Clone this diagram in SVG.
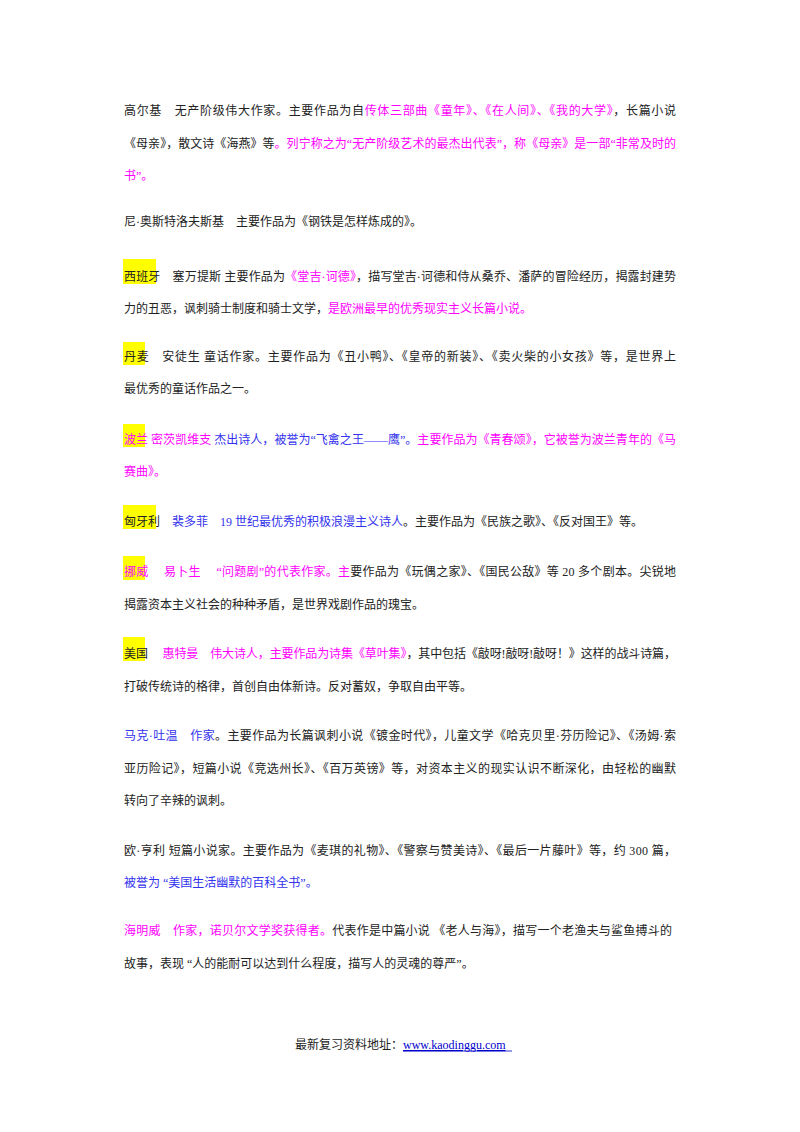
<svg xmlns="http://www.w3.org/2000/svg" width="800" height="1132" viewBox="0 0 800 1132">
<style>
text{font-family:"Liberation Serif","Noto Sans CJK SC",serif;font-size:12px;fill:#222}
.m{fill:#FF00FF}.b{fill:#3333EE}
.hl{fill:#FFFF00}
</style>
<rect width="800" height="1132" fill="#fff"/>
<g id="highlights">
<rect class="hl" x="123" y="259" width="33" height="25"/>
<rect class="hl" x="123" y="342" width="22" height="23"/>
<rect class="hl" x="123" y="424" width="22" height="23"/>
<rect class="hl" x="123" y="505" width="33" height="24"/>
<rect class="hl" x="123" y="556" width="22" height="24"/>
<rect class="hl" x="123" y="637" width="22" height="24"/>
</g>
<g id="p1">
<text x="124" y="115" textLength="552" lengthAdjust="spacing">高尔基　无产阶级伟大作家。主要作品为自<tspan class="m">传体三部曲《童年》、《在人间》、《我的大学》</tspan>，长篇小说</text>
<text x="124" y="148" textLength="552" lengthAdjust="spacing">《母亲》，散文诗《海燕》等<tspan class="m">。列宁称之为“无产阶级艺术的最杰出代表”，称《母亲》是一部“非常及时的</tspan></text>
<text x="124" y="180" class="m">书”。</text>
</g>
<g id="p2"><text x="124" y="226">尼·奥斯特洛夫斯基　主要作品为《钢铁是怎样炼成的》。</text></g>
<g id="p3">
<text x="124" y="281" textLength="552" lengthAdjust="spacing">西班牙　塞万提斯 主要作品为<tspan class="m">《堂吉·诃德》</tspan>，描写堂吉·诃德和侍从桑乔、潘萨的冒险经历，揭露封建势</text>
<text x="124" y="313">力的丑恶，讽刺骑士制度和骑士文学，<tspan class="m">是欧洲最早的优秀现实主义长篇小说。</tspan></text>
</g>
<g id="p4">
<text x="124" y="361" textLength="552" lengthAdjust="spacing">丹麦　安徒生 童话作家。主要作品为《丑小鸭》、《皇帝的新装》、《卖火柴的小女孩》等，是世界上</text>
<text x="124" y="393">最优秀的童话作品之一。</text>
</g>
<g id="p5">
<text x="124" y="444" textLength="552" lengthAdjust="spacing" class="m">波兰 密茨凯维支 <tspan class="b">杰出诗人，被誉为“飞禽之王——鹰”。</tspan>主要作品为《青春颂》，它被誉为波兰青年的《马</text>
<text x="124" y="476" class="m">赛曲》。</text>
</g>
<g id="p6"><text x="124" y="526">匈牙利　<tspan class="b">裴多菲　19 世纪最优秀的积极浪漫主义诗人</tspan>。主要作品为《民族之歌》、《反对国王》等。</text></g>
<g id="p7">
<text x="124" y="576" textLength="552" lengthAdjust="spacing"><tspan class="m">挪威　 易卜生　 “问题剧”的代表作家。主</tspan>要作品为《玩偶之家》、《国民公敌》等 20 多个剧本。尖锐地</text>
<text x="124" y="609">揭露资本主义社会的种种矛盾，是世界戏剧作品的瑰宝。</text>
</g>
<g id="p8">
<text x="124" y="658" textLength="552" lengthAdjust="spacing">美国　 <tspan class="m">惠特曼　伟大诗人，主要作品为诗集《草叶集》</tspan>，其中包括《敲呀!敲呀!敲呀！》这样的战斗诗篇，</text>
<text x="124" y="691">打破传统诗的格律，首创自由体新诗。反对蓄奴，争取自由平等。</text>
</g>
<g id="p9">
<text x="124" y="740" textLength="552" lengthAdjust="spacing"><tspan class="b">马克·吐温　作家</tspan>。主要作品为长篇讽刺小说《镀金时代》，儿童文学《哈克贝里·芬历险记》、《汤姆·索</text>
<text x="124" y="773" textLength="552" lengthAdjust="spacing">亚历险记》，短篇小说《竞选州长》、《百万英镑》等，对资本主义的现实认识不断深化，由轻松的幽默</text>
<text x="124" y="805">转向了辛辣的讽刺。</text>
</g>
<g id="p10">
<text x="124" y="855" textLength="552" lengthAdjust="spacing">欧·亨利 短篇小说家。主要作品为《麦琪的礼物》、《警察与赞美诗》、《最后一片藤叶》等，约 300 篇，</text>
<text x="124" y="887" class="b">被誉为 “美国生活幽默的百科全书”。</text>
</g>
<g id="p11">
<text x="124" y="935" textLength="548" lengthAdjust="spacing"><tspan class="m">海明威　作家，诺贝尔文学奖获得者。</tspan>代表作是中篇小说 《老人与海》，描写一个老渔夫与鲨鱼搏斗的</text>
<text x="124" y="968">故事，表现 “人的能耐可以达到什么程度，描写人的灵魂的尊严”。</text>
</g>
<g id="footer">
<text x="295" y="1049">最新复习资料地址：<tspan fill="#0000CC" text-decoration="underline">www.kaodinggu.com </tspan></text>
<line x1="403" y1="1051" x2="512" y2="1051" stroke="#0000CC" stroke-width="0.8"/>
</g>
</svg>
